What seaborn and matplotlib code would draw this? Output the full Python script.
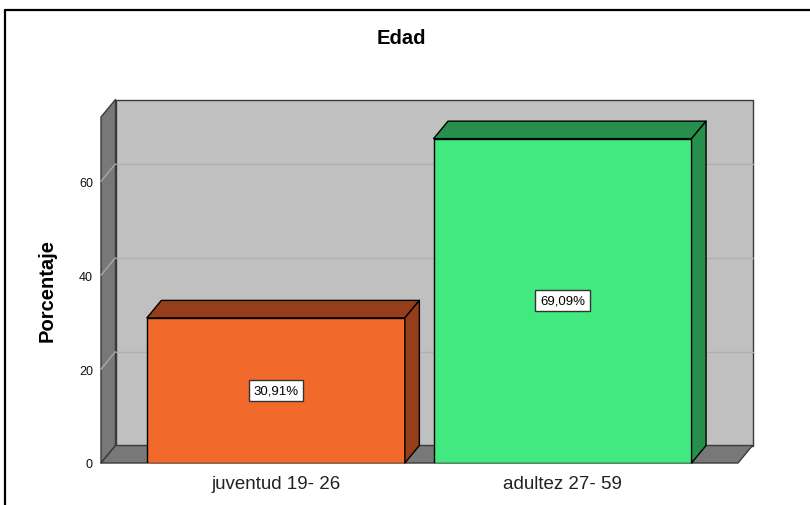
import matplotlib
matplotlib.use('Agg')
import matplotlib.pyplot as plt
from matplotlib.patches import Polygon
from matplotlib.lines import Line2D
import seaborn as sns

# Datos
categorias = ['juventud 19- 26', 'adultez 27- 59']
porcentajes = [30.91, 69.09]
ticks_y = [0, 20, 40, 60]
colores_frente = ['#F26A2B', '#41E97E']
colores_lado = ['#963E1A', '#268F4C']

sns.set_theme(style='white')
plt.rcParams['font.family'] = ['Liberation Sans', 'DejaVu Sans']

W, H = 810, 506
fig = plt.figure(figsize=(W / 100, H / 100), dpi=100)
ax = fig.add_axes([101 / W, 42 / H, 637 / W, 346 / H])

sns.barplot(x=categorias, y=porcentajes, hue=categorias, palette=colores_frente,
            legend=False, width=0.9, edgecolor='black', linewidth=1, ax=ax,
            saturation=1)
barras = list(ax.patches)

XMIN, XMAX, YMAX = -0.61, 1.612, 73.7
ax.set_xlim(XMIN, XMAX)
ax.set_ylim(0, YMAX)
for s in ax.spines.values():
    s.set_visible(False)
ax.set_facecolor('none')

# profundidad del efecto 3D en unidades de datos
dx = 14.5 / (637 / (XMAX - XMIN))
dy = 17.5 / (346 / YMAX)

borde = '#3A3A3A'

def poli(pts, color, z, ec=borde, lw=1.0):
    p = Polygon(pts, closed=True, facecolor=color, edgecolor=ec, linewidth=lw,
                zorder=z, clip_on=False, joinstyle='round')
    ax.add_patch(p)

# pared del fondo, pared izquierda y suelo
poli([(XMIN + dx, dy), (XMAX + dx, dy), (XMAX + dx, YMAX + dy), (XMIN + dx, YMAX + dy)], '#C0C0C0', 0.1)
poli([(XMIN, 0), (XMIN + dx, dy), (XMIN + dx, YMAX + dy), (XMIN, YMAX)], '#787878', 0.2)
poli([(XMIN, 0), (XMAX, 0), (XMAX + dx, dy), (XMIN + dx, dy)], '#787878', 0.2)

# rejilla
for v in ticks_y[1:]:
    ax.add_line(Line2D([XMIN + dx, XMAX + dx], [v + dy, v + dy], color='#B0B0B0',
                       lw=1, zorder=0.3, clip_on=False))
    ax.add_line(Line2D([XMIN, XMIN + dx], [v, v + dy], color='#A8A8A8',
                       lw=1, zorder=0.3, clip_on=False))

# caras superior y lateral de las barras + etiquetas
for i, b in enumerate(barras):
    b.set_zorder(2)
    x0, w, h = b.get_x(), b.get_width(), b.get_height()
    poli([(x0, h), (x0 + w, h), (x0 + w + dx, h + dy), (x0 + dx, h + dy)],
         colores_lado[i], 2.1, ec='black')
    poli([(x0 + w, 0), (x0 + w + dx, dy), (x0 + w + dx, h + dy), (x0 + w, h)],
         colores_lado[i], 2.1, ec='black')
    ax.text(x0 + w / 2, h / 2, f'{porcentajes[i]:.2f}'.replace('.', ',') + '%',
            ha='center', va='center', fontsize=9.5, color='black', zorder=5,
            bbox=dict(boxstyle='square,pad=0.35', facecolor='white',
                      edgecolor='#333333', linewidth=1))

ax.set_yticks(ticks_y)
ax.tick_params(axis='y', length=0, pad=5.8, labelsize=9, labelcolor='#111111')
ax.tick_params(axis='x', length=0, pad=9, labelsize=13.5, labelcolor='#222222')
ax.set_xlabel('')
ax.set_ylabel('Porcentaje', fontsize=14.5, fontweight='bold', color='black')
ax.yaxis.set_label_coords(-0.069, 0.5)

fig.text(401 / W, 1 - 38 / H, 'Edad', ha='center', va='center',
         fontsize=14.5, fontweight='bold', color='black')

# marco exterior
fig.add_artist(Line2D([5 / W, 1.0], [1 - 11 / H, 1 - 11 / H], color='black', lw=1.6,
                      transform=fig.transFigure))
fig.add_artist(Line2D([5 / W, 5 / W], [0.0, 1 - 11 / H], color='black', lw=1.6,
                      transform=fig.transFigure))

fig.savefig('out.png', dpi=100)
